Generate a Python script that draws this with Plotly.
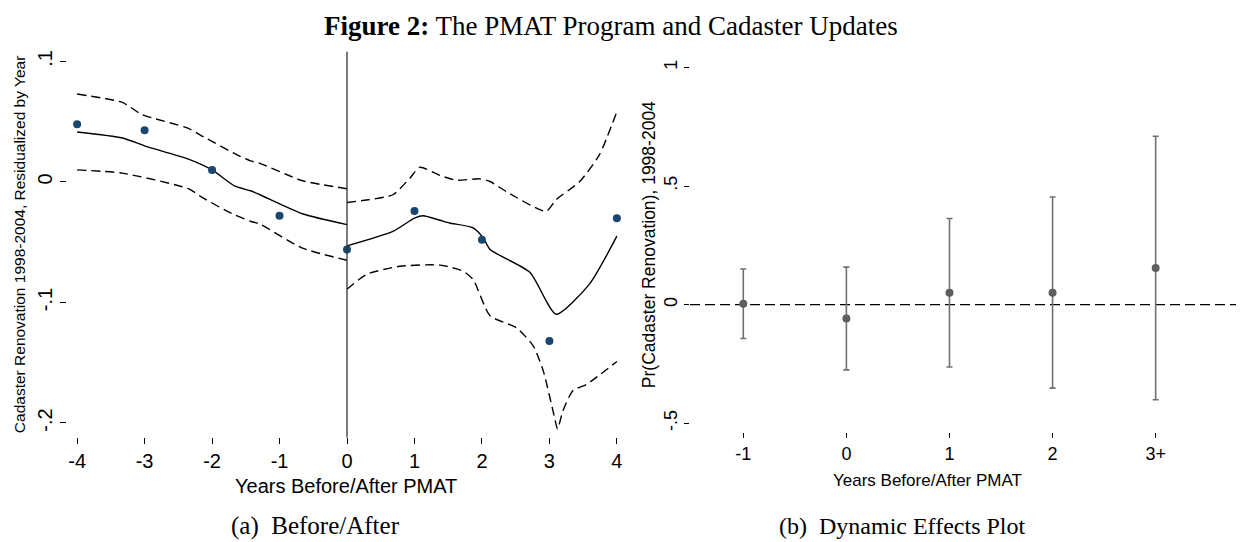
import plotly.graph_objects as go

# ---------------- Panel (a) data ----------------
years = [-4, -3, -2, -1, 0, 1, 2, 3, 4]
resid_means = [0.048, 0.043, 0.010, -0.028, -0.056, -0.024, -0.048, -0.132, -0.030]

pre_x = [-4.0, -3.33, -3.0, -2.35, -2.0, -1.66, -1.43, -1.29, -0.65, 0.0]
pre_fit = [0.0415, 0.0365, 0.030, 0.019, 0.010, -0.0035, -0.0073, -0.0106, -0.0266, -0.0354]
pre_up_x = [-4.0, -3.33, -3.04, -2.35, -2.13, -1.63, -1.43, -1.29, -0.67, 0.0]
pre_up = [0.073, 0.066, 0.056, 0.0445, 0.0376, 0.0225, 0.0175, 0.0155, 0.0012, -0.0056]
pre_lo_x = [-4.0, -3.33, -2.35, -2.13, -1.68, -1.43, -1.29, -0.67, 0.0]
pre_lo = [0.010, 0.0073, -0.0056, -0.0134, -0.027, -0.0326, -0.035, -0.0547, -0.065]

post_x = [0.0, 0.68, 1.0, 1.13, 1.38, 1.52, 1.87, 2.02, 2.12, 2.71, 3.10, 3.59, 4.0]
post_fit = [-0.053, -0.041, -0.030, -0.028, -0.0318, -0.034, -0.038, -0.0464, -0.056, -0.075, -0.1098, -0.085, -0.045]
post_up_x = [0.0, 0.29, 0.68, 0.93, 1.08, 1.38, 1.62, 1.97, 2.12, 2.36, 2.95, 3.10, 3.45, 3.74, 4.0]
post_up = [-0.017, -0.015, -0.0106, 0.003, 0.0122, 0.0054, 0.0015, 0.0026, 0.0004, -0.0079, -0.0244, -0.0147, 0.0004, 0.0225, 0.0583]
post_lo_x = [0.0, 0.29, 0.78, 1.38, 1.72, 1.87, 2.12, 2.51, 2.76, 2.91, 3.08, 3.12, 3.2, 3.35, 3.55, 4.0]
post_lo = [-0.089, -0.0767, -0.070, -0.069, -0.074, -0.081, -0.111, -0.121, -0.136, -0.157, -0.1965, -0.205, -0.19, -0.173, -0.168, -0.149]

# ---------------- Panel (b) data ----------------
periods = ["-1", "0", "1", "2", "3+"]
coef = [0.004, -0.059, 0.05, 0.05, 0.154]
ci_low = [-0.143, -0.275, -0.263, -0.352, -0.401]
ci_high = [0.15, 0.158, 0.363, 0.454, 0.71]

left_yticks = [-0.2, -0.1, 0, 0.1]
left_yticktext = ["-.2", "-.1", "0", ".1"]
right_yticks = [-0.5, 0, 0.5, 1]
right_yticktext = ["-.5", "0", ".5", "1"]

NAVY = "#1a476f"
SANS = "Liberation Sans, Arial, sans-serif"
SERIF = "Liberation Serif, Times New Roman, serif"
W, H = 1244, 542
OFF = 8  # page body margin

fig = go.Figure()

line_solid = dict(color="black", width=1.4)
line_dash = dict(color="black", width=1.4, dash="9px,5px")

for xs, ys, ln in [
    (pre_up_x, pre_up, line_dash), (pre_lo_x, pre_lo, line_dash), (pre_x, pre_fit, line_solid),
    (post_up_x, post_up, line_dash), (post_lo_x, post_lo, line_dash), (post_x, post_fit, line_solid),
]:
    fig.add_trace(go.Scatter(x=xs, y=ys, mode="lines", line=dict(ln, shape="spline", smoothing=0.6),
                             xaxis="x", yaxis="y", showlegend=False, hoverinfo="skip"))

fig.add_trace(go.Scatter(x=years, y=resid_means, mode="markers",
                         marker=dict(color=NAVY, size=8), xaxis="x", yaxis="y", showlegend=False))

pos = list(range(len(periods)))
fig.add_trace(go.Scatter(
    x=pos, y=coef, mode="markers",
    marker=dict(color="#5e5e5e", size=8),
    error_y=dict(type="data", symmetric=False,
                 array=[h - c for h, c in zip(ci_high, coef)],
                 arrayminus=[c - l for c, l in zip(coef, ci_low)],
                 color="#707070", thickness=1.6, width=3),
    xaxis="x2", yaxis="y2", showlegend=False))


def px_x(p):
    return (p - OFF) / W


def px_y(p):
    return 1 - (p - OFF) / H


tickfont_l = dict(family=SANS, size=20, color="black")
tickfont_r = dict(family=SANS, size=18, color="black")

fig.update_layout(
    width=W, height=H,
    margin=dict(l=0, r=0, t=0, b=0),
    paper_bgcolor="white", plot_bgcolor="white",
    xaxis=dict(domain=[px_x(67), px_x(627)], range=[-4.15, 4.15],
               tickvals=years, ticktext=[str(v) for v in years],
               showgrid=False, zeroline=False, showline=False,
               ticks="outside", ticklen=6, tickcolor="black", tickwidth=1,
               tickfont=tickfont_l, anchor="y"),
    yaxis=dict(domain=[px_y(437), px_y(50)], range=[-0.212, 0.108],
               tickvals=left_yticks, ticktext=left_yticktext, tickangle=-90,
               showgrid=False, zeroline=False, showline=False,
               ticks="outside", ticklen=6, tickcolor="black", tickwidth=1,
               tickfont=tickfont_l, anchor="x"),
    xaxis2=dict(domain=[px_x(690), 1.0], range=[-0.517, 4.85 + OFF / 94.7],
                tickvals=pos, ticktext=periods,
                showgrid=False, zeroline=False, showline=False,
                ticks="outside", ticklen=5, tickcolor="black", tickwidth=1,
                tickfont=tickfont_r, anchor="y2"),
    yaxis2=dict(domain=[px_y(432), px_y(50)], range=[-0.539, 1.066],
                tickvals=right_yticks, ticktext=right_yticktext, tickangle=-90,
                showgrid=False, zeroline=False, showline=False,
                ticks="outside", ticklen=5, tickcolor="black", tickwidth=1,
                tickfont=tickfont_r, anchor="x2"),
)

fig.add_shape(type="line", xref="x", yref="y domain", x0=0, x1=0, y0=0, y1=1,
              line=dict(color="#333333", width=1.3))
fig.add_shape(type="line", xref="x2 domain", yref="y2", x0=0, x1=1, y0=0, y1=0,
              line=dict(color="black", width=1.3, dash="10px,5px"), layer="below")

ann = []
ann.append(dict(x=px_x(611), y=px_y(24), xref="paper", yref="paper", showarrow=False,
                text="<b>Figure 2:</b> The PMAT Program and Cadaster Updates",
                font=dict(family=SERIF, size=27, color="black"), xanchor="center", yanchor="middle"))
ann.append(dict(x=px_x(346), y=px_y(486), xref="paper", yref="paper", showarrow=False,
                text="Years Before/After PMAT", font=dict(family=SANS, size=20, color="black"),
                xanchor="center", yanchor="middle"))
ann.append(dict(x=px_x(927), y=px_y(480), xref="paper", yref="paper", showarrow=False,
                text="Years Before/After PMAT", font=dict(family=SANS, size=17, color="black"),
                xanchor="center", yanchor="middle"))
ann.append(dict(x=px_x(19), y=px_y(244), xref="paper", yref="paper", showarrow=False, textangle=-90,
                text="Cadaster Renovation 1998-2004, Residualized by Year",
                font=dict(family=SANS, size=15.5, color="black"), xanchor="center", yanchor="middle"))
ann.append(dict(x=px_x(649), y=px_y(244), xref="paper", yref="paper", showarrow=False, textangle=-90,
                text="Pr(Cadaster Renovation), 1998-2004",
                font=dict(family=SANS, size=17.5, color="black"), xanchor="center", yanchor="middle"))
ann.append(dict(x=px_x(315), y=px_y(526), xref="paper", yref="paper", showarrow=False,
                text="(a)  Before/After", font=dict(family=SERIF, size=25, color="black"),
                xanchor="center", yanchor="middle"))
ann.append(dict(x=px_x(902), y=px_y(526), xref="paper", yref="paper", showarrow=False,
                text="(b)  Dynamic Effects Plot", font=dict(family=SERIF, size=24, color="black"),
                xanchor="center", yanchor="middle"))
fig.update_layout(annotations=ann)

fig.write_html("out.html")
